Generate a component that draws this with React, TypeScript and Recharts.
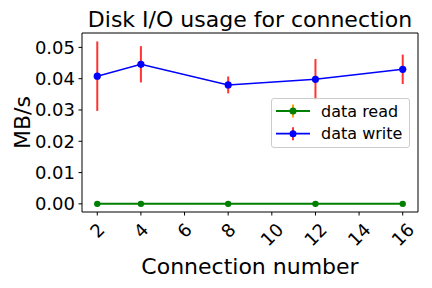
import React from "react";
import {
  ComposedChart,
  Line,
  XAxis,
  YAxis,
  ErrorBar,
  Legend,
  Label,
  ReferenceArea,
} from "recharts";

const conns = [2, 4, 8, 12, 16];
const readMBs = [0, 0, 0, 0, 0];
const readErr = [0, 0, 0, 0, 0];
const writeMBs = [0.0408, 0.0446, 0.038, 0.0398, 0.043];
const writeErr = [0.0111, 0.0058, 0.0027, 0.0065, 0.0047];
const xTicks = [2, 4, 6, 8, 10, 12, 14, 16];
const yTicks = [0, 0.01, 0.02, 0.03, 0.04, 0.05];

const xDomain = [1.3, 16.7];
const yDomain = [-0.0026, 0.0546];

const data = conns.map((c, i) => ({
  conn: c,
  read: readMBs[i],
  readErr: readErr[i],
  write: writeMBs[i],
  writeErr: writeErr[i],
}));

const FONT = "'DejaVu Sans', sans-serif";

// matplotlib-like rotated tick: rotated bbox hangs below the tick
function XTick(props: any) {
  const { x, y, payload } = props;
  const label = String(payload.value);
  const fs = 18;
  const w = label.length * 0.636 * fs;
  const h = 1.164 * fs;
  const H = (w + h) * Math.SQRT1_2;
  const cy = y + H / 2;
  return (
    <text
      x={x}
      y={cy}
      textAnchor="middle"
      dominantBaseline="central"
      fontSize={fs}
      fill="#000"
      transform={`rotate(-45 ${x} ${cy})`}
    >
      {label}
    </text>
  );
}

function YLabel(props: any) {
  const vb = props.viewBox;
  const cx = vb.x + 22;
  const cy = vb.y + vb.height / 2;
  return (
    <text
      x={cx}
      y={cy}
      textAnchor="middle"
      dominantBaseline="central"
      fontSize={22}
      fill="#000"
      transform={`rotate(-90 ${cx} ${cy})`}
    >
      MB/s
    </text>
  );
}

function XLabel(props: any) {
  const vb = props.viewBox;
  return (
    <text
      x={vb.x + vb.width / 2}
      y={vb.y + 62}
      textAnchor="middle"
      fontSize={22}
      fill="#000"
    >
      Connection number
    </text>
  );
}

const legendItems = [
  { name: "data read", color: "green", err: "orange" },
  { name: "data write", color: "#0000ff", err: "rgba(255,0,0,0.8)" },
];

function LegendBox() {
  return (
    <div
      style={{
        width: 139,
        height: 50,
        boxSizing: "border-box",
        border: "1px solid #cccccc",
        borderRadius: 3,
        background: "rgba(255,255,255,0.8)",
      }}
    >
      <svg width={137} height={48} style={{ display: "block" }}>
        {legendItems.map((it, i) => {
          const cy = 12 + i * 22.7;
          return (
            <g key={it.name}>
              <line x1={21} x2={21} y1={cy - 6.5} y2={cy + 6.5} stroke={it.err} strokeWidth={2} />
              <line x1={4} x2={38} y1={cy} y2={cy} stroke={it.color} strokeWidth={1.8} />
              <circle cx={21} cy={cy} r={3.5} fill={it.color} />
              <text x={49} y={cy} dominantBaseline="central" fontSize={16} fill="#000" fontFamily={FONT}>
                {it.name}
              </text>
            </g>
          );
        })}
      </svg>
    </div>
  );
}

export default function App() {
  return (
    <div
      style={{
        position: "absolute",
        left: 0,
        top: 0,
        width: 432,
        height: 288,
        fontFamily: FONT,
        background: "#fff",
      }}
    >
      <div
        style={{
          position: "absolute",
          left: 82,
          width: 336,
          top: 9,
          textAlign: "center",
          fontSize: 22,
          lineHeight: "22px",
          color: "#000",
          whiteSpace: "nowrap",
        }}
      >
        Disk I/O usage for connection
      </div>
      <ComposedChart
        width={432}
        height={288}
        data={data}
        margin={{ top: 33, right: 14, left: 0, bottom: 0 }}
      >
        <ReferenceArea
          x1={xDomain[0]}
          x2={xDomain[1]}
          y1={yDomain[0]}
          y2={yDomain[1]}
          fill="none"
          stroke="#000"
          strokeWidth={1}
          ifOverflow="visible"
        />
        <XAxis
          type="number"
          dataKey="conn"
          domain={xDomain}
          ticks={xTicks}
          interval={0}
          allowDataOverflow
          height={76}
          axisLine={false}
          tickLine={{ stroke: "#000" }}
          tickSize={3.5}
          tickMargin={3.5}
          tick={<XTick />}
        >
          <Label content={XLabel} />
        </XAxis>
        <YAxis
          type="number"
          domain={yDomain}
          ticks={yTicks}
          interval={0}
          allowDataOverflow
          width={82}
          axisLine={false}
          tickLine={{ stroke: "#000" }}
          tickSize={3.5}
          tickMargin={3.5}
          tick={{ fill: "#000", fontSize: 18 }}
          tickFormatter={(v: number) => v.toFixed(2)}
        >
          <Label content={YLabel} />
        </YAxis>
        <Legend
          layout="vertical"
          align="center"
          verticalAlign="middle"
          content={<LegendBox />}
          wrapperStyle={{ left: 271, top: 98, width: 139, height: 50 }}
        />
        <Line
          dataKey="read"
          stroke="green"
          strokeWidth={2}
          dot={{ r: 3.2, fill: "green", stroke: "green", strokeWidth: 0 }}
          activeDot={false}
          isAnimationActive={false}
        >
          <ErrorBar dataKey="readErr" direction="y" width={0} stroke="orange" strokeWidth={2} />
        </Line>
        <Line
          dataKey="write"
          stroke="#0000ff"
          strokeWidth={1.5}
          dot={{ r: 3.6, fill: "#0000ff", stroke: "#0000ff", strokeWidth: 0 }}
          activeDot={false}
          isAnimationActive={false}
        >
          <ErrorBar
            dataKey="writeErr"
            direction="y"
            width={0}
            stroke="rgba(255,0,0,0.8)"
            strokeWidth={2}
          />
        </Line>
      </ComposedChart>
    </div>
  );
}
